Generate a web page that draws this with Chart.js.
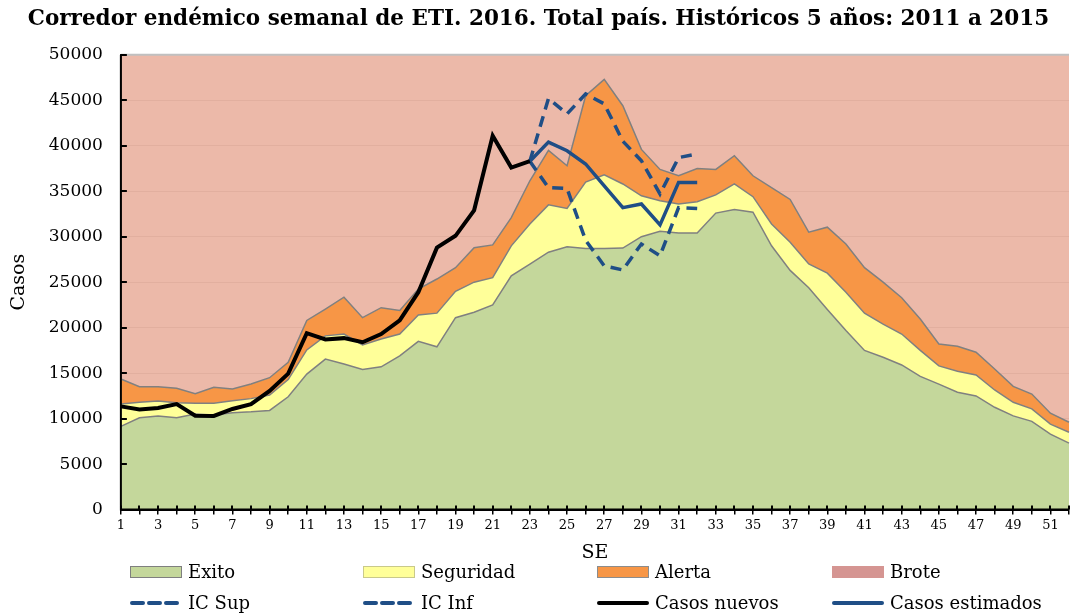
<!DOCTYPE html>
<html>
<head>
<meta charset="utf-8">
<script src="https://cdn.jsdelivr.net/npm/chart.js"></script>
<style>
  body { margin: 0; background: #fff; }
  #wrap { position: relative; width: 1072px; height: 614px; }
  .leg { position: absolute; display: flex; align-items: center; font: 18px 'DejaVu Serif', serif; color: #000; white-space: nowrap; }
  .leg .sw { width: 52px; height: 12px; margin-right: 6px; box-sizing: border-box; }
</style>
</head>
<body>
<div id="wrap">
  <canvas id="corredor"></canvas>
</div>
<script>
// semanas epidemiológicas
const semanas = ['1','2','3','4','5','6','7','8','9','10','11','12','13','14','15','16','17','18','19','20',
  '21','22','23','24','25','26','27','28','29','30','31','32','33','34','35','36','37','38','39','40',
  '41','42','43','44','45','46','47','48','49','50','51','52'];

// límites del corredor (históricos 2011-2015)
const exito = [9150,10100,10300,10100,10500,10400,10650,10750,10900,12400,14900,16550,16000,15400,15700,16900,18500,17900,21100,21700,
  22500,25700,27000,28300,28900,28700,28700,28750,30000,30600,30400,30400,32600,33000,32700,29000,26300,24400,22000,19700,
  17500,16750,15900,14650,13800,12900,12500,11250,10300,9700,8300,7300];
const seguridad = [11600,11800,11940,11750,11700,11700,11970,12200,12600,14300,17550,19100,19300,18100,18750,19300,21400,21600,24000,25000,
  25500,29000,31400,33500,33100,36000,36800,35800,34500,33950,33600,33850,34600,35800,34400,31400,29400,27000,26000,23900,
  21600,20400,19300,17500,15800,15200,14800,13150,11800,11070,9400,8500];
const alerta = [14360,13500,13500,13330,12750,13450,13270,13800,14500,16200,20800,22050,23350,21100,22200,21900,24250,25350,26600,28800,
  29100,32100,36150,39500,37800,45500,47300,44400,39600,37400,36700,37500,37400,38900,36700,35400,34100,30500,31050,29200,
  26600,25000,23300,20950,18200,17950,17300,15450,13550,12700,10600,9600];

// 2016
const casosNuevos = [11350,11000,11170,11600,10330,10300,11060,11600,13050,14950,19400,18700,18850,18400,19300,20800,23900,28800,30100,32900,
  41100,37600,38300,null,null,null,null,null,null,null,null,null,null,null,null,null,null,null,null,null,
  null,null,null,null,null,null,null,null,null,null,null,null];
const casosEstimados = [null,null,null,null,null,null,null,null,null,null,null,null,null,null,null,null,null,null,null,null,
  null,null,38300,40400,39450,38000,35600,33200,33600,31300,35970,35970,null,null,null,null,null,null,null,null,
  null,null,null,null,null,null,null,null,null,null,null,null];
const icSup = [null,null,null,null,null,null,null,null,null,null,null,null,null,null,null,null,null,null,null,null,
  null,null,38300,45200,43500,45700,44600,40500,38350,34700,38700,39100,null,null,null,null,null,null,null,null,
  null,null,null,null,null,null,null,null,null,null,null,null];
const icInf = [null,null,null,null,null,null,null,null,null,null,null,null,null,null,null,null,null,null,null,null,
  null,null,38300,35400,35300,29600,26800,26350,29200,27900,33200,33100,null,null,null,null,null,null,null,null,
  null,null,null,null,null,null,null,null,null,null,null,null];

const yTicks = [0,5000,10000,15000,20000,25000,30000,35000,40000,45000,50000];

const serif = "'DejaVu Serif', serif";
const azul = '#1f4e86';

// ejes como en Excel: marcas hacia adentro y ejes sobre las áreas
const ejes = {
  id: 'ejes',
  afterDatasetsDraw(chart) {
    const { ctx, chartArea: a, scales } = chart;
    ctx.save();
    ctx.strokeStyle = '#c0c0c0';
    ctx.lineWidth = 2;
    ctx.beginPath();
    ctx.moveTo(a.left, a.top);
    ctx.lineTo(a.right, a.top);
    ctx.stroke();
    ctx.strokeStyle = '#000';
    ctx.lineWidth = 2;
    ctx.beginPath();
    ctx.moveTo(a.left, a.top);
    ctx.lineTo(a.left, a.bottom);
    ctx.lineTo(a.right, a.bottom);
    yTicks.forEach(v => {
      const py = Math.round(scales.y.getPixelForValue(v));
      ctx.moveTo(a.left, py);
      ctx.lineTo(a.left + 6, py);
    });
    semanas.forEach((s, i) => {
      const px = Math.round(scales.x.getPixelForValue(i));
      ctx.moveTo(px, a.bottom - 4);
      ctx.lineTo(px, a.bottom);
    });
    ctx.stroke();
    ctx.restore();
  }
};

const area = (label, data, color, fill) => ({
  label, data, fill, order: 2,
  backgroundColor: color,
  borderColor: '#808080',
  borderWidth: 1.5,
  pointRadius: 0,
  tension: 0
});

const linea = (label, data, color, width, dash) => ({
  label, data, fill: false, order: 0,
  borderColor: color,
  borderWidth: width,
  borderDash: dash,
  borderJoinStyle: 'miter',
  pointRadius: 0,
  tension: 0,
  spanGaps: false
});

const ctx = document.getElementById('corredor').getContext('2d');
const chart = new Chart(ctx, {
  type: 'line',
  data: {
    labels: semanas,
    datasets: [
      linea('Casos nuevos', casosNuevos, '#000', 4, []),
      linea('Casos estimados', casosEstimados, azul, 3.5, []),
      linea('IC Sup', icSup, azul, 3.5, [11, 7]),
      linea('IC Inf', icInf, azul, 3.5, [11, 7]),
      area('Exito', exito, '#c4d79b', 'origin'),
      area('Seguridad', seguridad, '#ffff99', '-1'),
      area('Alerta', alerta, '#f79646', '-1'),
      { label: 'Brote', data: alerta, fill: 'end', order: 3, backgroundColor: 'rgba(228,158,136,0.72)',
        borderWidth: 0, pointRadius: 0, tension: 0 }
    ]
  },
  options: {
    responsive: true,
    maintainAspectRatio: false,
    animation: false,
    layout: { padding: { left: 5, right: 0, top: 0, bottom: 50 } },
    scales: {
      x: {
        offset: false,
        grid: { drawOnChartArea: false, drawTicks: true, tickLength: 5, color: '#000', lineWidth: 1.5 },
        border: { display: true, color: '#000', width: 2 },
        ticks: {
          autoSkip: false, maxRotation: 0, color: '#000', padding: 3,
          font: { family: serif, size: 13 },
          callback: (v, i) => (i % 2 === 0 ? semanas[i] : '')
        },
        title: { display: true, text: 'SE', color: '#000', font: { family: serif, size: 19 }, padding: { top: 5, bottom: 0 } }
      },
      y: {
        min: 0,
        max: 50000,
        afterBuildTicks: axis => { axis.ticks = yTicks.map(v => ({ value: v })); },
        grid: { drawTicks: false, color: 'rgba(190,190,190,0.5)', borderDash: [4, 4], lineWidth: 1 },
        border: { display: true, color: '#000', width: 2 },
        ticks: { color: '#000', padding: 18, font: { family: serif, size: 17 }, callback: v => String(v) },
        title: { display: true, text: 'Casos', color: '#000', font: { family: serif, size: 19 }, padding: { top: 3, bottom: 0 } }
      }
    },
    plugins: {
      legend: { display: false },
      tooltip: { enabled: false },
      title: {
        display: true,
        text: 'Corredor endémico semanal de ETI. 2016. Total país. Históricos 5 años: 2011 a 2015',
        color: '#000',
        font: { family: serif, size: 21.5, weight: 'bold' },
        padding: { top: 7, bottom: 22 }
      }
    }
  },
  plugins: [ejes]
});

// leyenda en dos filas y cuatro columnas
const leyenda = [
  { label: 'Exito', col: 0, row: 0, kind: 'box', color: '#c4d79b', border: '#7f7f7f' },
  { label: 'Seguridad', col: 1, row: 0, kind: 'box', color: '#ffff99', border: '#c9c98a' },
  { label: 'Alerta', col: 2, row: 0, kind: 'box', color: '#f79646', border: '#8c8c8c' },
  { label: 'Brote', col: 3, row: 0, kind: 'box', color: '#d59592', border: '#d59592' },
  { label: 'IC Sup', col: 0, row: 1, kind: 'line', color: azul, dash: '11 6' },
  { label: 'IC Inf', col: 1, row: 1, kind: 'line', color: azul, dash: '11 6' },
  { label: 'Casos nuevos', col: 2, row: 1, kind: 'line', color: '#000', dash: '' },
  { label: 'Casos estimados', col: 3, row: 1, kind: 'line', color: azul, dash: '' }
];
const colLeft = [130, 363, 597, 832];
const rowTop = [561, 592];
const wrap = document.getElementById('wrap');
leyenda.forEach(it => {
  const el = document.createElement('div');
  el.className = 'leg';
  el.style.left = colLeft[it.col] + 'px';
  el.style.top = rowTop[it.row] + 'px';
  let sw;
  if (it.kind === 'box') {
    sw = '<div class="sw" style="background:' + it.color + ';border:1.5px solid ' + it.border + '"></div>';
  } else {
    sw = '<svg class="sw" width="52" height="12"><line x1="2" y1="6" x2="50" y2="6" stroke="' + it.color +
      '" stroke-width="4" stroke-linecap="round" stroke-dasharray="' + it.dash + '"/></svg>';
  }
  el.innerHTML = sw + '<span>' + it.label + '</span>';
  wrap.appendChild(el);
});
</script>
</body>
</html>
